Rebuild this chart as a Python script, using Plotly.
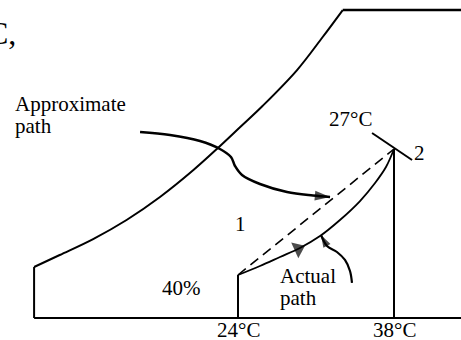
import numpy as np
import plotly.graph_objects as go

# Schematic psychrometric chart: dry-bulb temperature (°C) vs humidity ratio (g/kg, schematic scale)
sat_T = [5.7, 8.0, 11.0, 14.0, 17.0, 20.0, 22.2, 24.2, 26.2, 29.3, 31.6, 33.4]
sat_w = [5.43, 6.71, 8.41, 10.44, 12.89, 15.76, 18.11, 20.34, 22.58, 26.41, 29.93, 32.80]
chart_T_min = 5.7
chart_T_max = 46.0
chart_w_top = 32.80

state_T = [24.0, 38.0]          # state 1, state 2 dry-bulb
state_w = [4.58, 18.0]
state_labels = ["1", "2"]
rh_label = "40%"
wetbulb_label = "27°C"
tick_labels = ["24°C", "38°C"]

actual_T = [24.0, 25.97, 27.77, 29.56, 31.36, 33.15, 34.95, 36.30, 37.28, 38.0]
actual_w = [4.58, 5.54, 6.50, 7.46, 8.73, 10.44, 12.46, 14.38, 16.08, 18.0]
actual_head_T = [28.9, 29.4]

wetbulb_T = [36.03, 39.62]
wetbulb_w = [19.70, 16.83]

approx_arrow_T = [15.21, 17.90, 20.59, 22.38, 23.37, 23.73, 24.36, 25.97, 28.40, 30.73, 32.26]
approx_arrow_w = [19.81, 19.49, 18.85, 18.0, 17.15, 16.19, 15.23, 14.27, 13.42, 13.05, 12.89]

actual_arrow_T = [34.23, 34.05, 33.60, 32.88, 31.99, 31.45]
actual_arrow_w = [3.73, 5.01, 6.18, 7.03, 7.67, 8.84]

FONT = "Liberation Serif, Times New Roman, serif"
BLACK = "black"

fig = go.Figure()

def line(x, y, width=2, dash=None, shape="linear", smoothing=1.0):
    fig.add_trace(go.Scatter(x=x, y=y, mode="lines",
                             line=dict(color=BLACK, width=width, dash=dash, shape=shape,
                                       smoothing=smoothing),
                             hoverinfo="skip", showlegend=False))

# chart frame
line([chart_T_min, chart_T_max], [0, 0], width=2)
line([chart_T_min, chart_T_min], [0, sat_w[0]], width=2)
line(sat_T, sat_w, width=2, shape="spline", smoothing=1.0)
line([sat_T[-1], chart_T_max], [chart_w_top, chart_w_top], width=2.5)

# dry-bulb lines at the states
for T, w in zip(state_T, state_w):
    line([T, T], [0, w], width=2)

# wet-bulb line through state 2
line(wetbulb_T, wetbulb_w, width=2)

# approximate (dashed) path
line(state_T, state_w, width=1.6, dash="10px,6px")

# actual path
line(actual_T, actual_w, width=1.8, shape="spline", smoothing=1.0)
head_w = list(np.interp(actual_head_T, actual_T, actual_w))
fig.add_trace(go.Scatter(x=actual_head_T, y=head_w, mode="markers",
                         marker=dict(symbol="triangle-up", size=[0, 15], color=BLACK,
                                     angleref="previous", line=dict(width=0)),
                         hoverinfo="skip", showlegend=False))

# pointer arrows
for xs, ys, lw, hs in [(approx_arrow_T, approx_arrow_w, 2.5, 16),
                       (actual_arrow_T, actual_arrow_w, 2.2, 13)]:
    sizes = [0] * (len(xs) - 1) + [hs]
    fig.add_trace(go.Scatter(x=xs, y=ys, mode="lines+markers",
                             line=dict(color=BLACK, width=lw, shape="spline", smoothing=1.0),
                             marker=dict(symbol="arrow", size=sizes, color=BLACK,
                                         angleref="previous", line=dict(width=0)),
                             hoverinfo="skip", showlegend=False))

def label(text, x, y, xs=0, ys=0, xanchor="center", size=21):
    fig.add_annotation(x=x, y=y, xref="x", yref="y", text=text, showarrow=False,
                       xshift=xs, yshift=ys, xanchor=xanchor, yanchor="middle",
                       font=dict(family=FONT, size=size, color=BLACK))

label(tick_labels[0], state_T[0], 0, ys=-12)
label(tick_labels[1], state_T[1], 0, ys=-12)
label(state_labels[0], state_T[0], state_w[0], xs=2, ys=51)
label(state_labels[1], state_T[1], state_w[1], xs=25, ys=-4)
label(wetbulb_label, wetbulb_T[0], wetbulb_w[0], xs=-22, ys=14)
label(rh_label, state_T[0], state_w[0], xs=-57, ys=-13)
label("Actual", actual_arrow_T[0], actual_arrow_w[0], xs=-74, ys=7, xanchor="left")
label("path", actual_arrow_T[0], actual_arrow_w[0], xs=-74, ys=-15, xanchor="left")
label("Approximate", approx_arrow_T[0], approx_arrow_w[0], xs=-127, ys=28, xanchor="left")
label("path", approx_arrow_T[0], approx_arrow_w[0], xs=-127, ys=6, xanchor="left")

fig.add_annotation(x=18 / 461, y=1 - 33 / 340, xref="paper", yref="paper", text="C,",
                   showarrow=False, xanchor="right", yanchor="middle",
                   font=dict(family=FONT, size=32, color=BLACK))

px_per_T = 156 / 14
px_per_w = 169 / 18
fig.update_layout(
    width=461, height=340,
    margin=dict(l=0, r=0, t=0, b=0, pad=0),
    paper_bgcolor="white", plot_bgcolor="white",
    xaxis=dict(visible=False, range=[24 - 238 / px_per_T, 24 + 223 / px_per_T]),
    yaxis=dict(visible=False, range=[-22 / px_per_w, 318 / px_per_w]),
)

fig.write_html("out.html", config={"displayModeBar": False},
               post_script="document.body.style.margin='0';document.body.style.overflow='hidden';")
